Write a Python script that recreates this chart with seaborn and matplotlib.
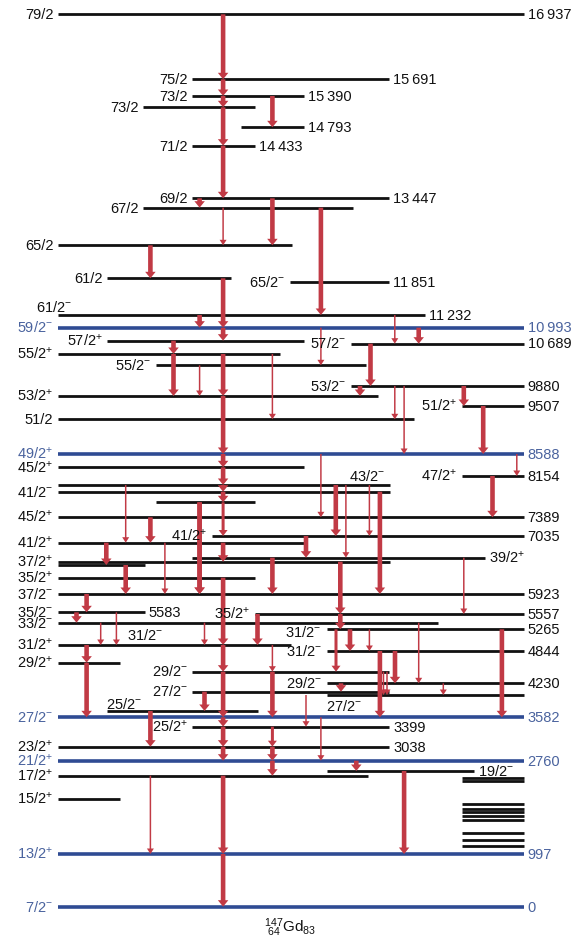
import matplotlib
matplotlib.use("Agg")
import matplotlib.pyplot as plt
import numpy as np
import pandas as pd
import seaborn as sns

# ------------------------------------------------------------------ data
# levels of 147Gd: key, drawing position (schematic, top = 0), left/right end,
# spin-parity label, energy label (keV), highlighted (blue) flag
level_key = ["16937", "15691", "15390", "73b", "14793", "14433", "13447", "67", "65", "61",
             "11851", "11232", "10993", "57p", "10689", "55p", "55m", "9880", "53p", "9507",
             "51", "8588", "45p", "8154", "43m", "41m", "u1", "7389", "7035", "41p",
             "39p", "37p", "37pb", "35p", "5923", "5583", "5557", "33m", "5265", "31p",
             "4844", "29p", "29m", "4230", "27m", "27mr", "25m", "3582", "3399", "3038",
             "2760", "19m", "17p", "15p", "997", "0"]
level_pos = [14.3, 79.3, 96.0, 107.3, 127.3, 145.7, 198.3, 207.7, 245.3, 278.3,
             282.3, 315.0, 327.7, 340.7, 343.7, 354.0, 365.3, 386.0, 396.0, 406.0,
             419.3, 454.0, 467.3, 476.0, 485.0, 491.7, 502.3, 517.3, 536.0, 542.7,
             557.7, 561.7, 565.0, 577.7, 594.0, 612.3, 614.0, 622.7, 629.3, 645.0,
             651.0, 662.7, 671.7, 683.3, 691.7, 695.0, 711.0, 717.3, 726.7, 746.7,
             760.7, 771.0, 775.7, 799.3, 854.0, 906.7]
level_x0 = [57.8, 192.2, 192.2, 142.9, 241.4, 192.2, 192.2, 142.9, 57.8, 107.1,
            289.9, 57.8, 57.8, 107.1, 350.7, 57.8, 155.6, 350.7, 57.8, 461.6,
            57.8, 57.8, 57.8, 461.6, 57.8, 57.8, 155.6, 57.8, 212.0, 57.8,
            192.2, 57.8, 57.8, 57.8, 57.8, 57.8, 254.9, 57.8, 326.5, 57.8,
            326.5, 57.8, 192.2, 326.5, 192.2, 326.5, 107.1, 57.8, 192.2, 57.8,
            57.8, 326.5, 57.8, 57.8, 57.8, 57.8]
level_x1 = [523.5, 389.2, 304.1, 254.9, 304.1, 254.9, 389.2, 352.6, 292.2, 230.6,
            389.2, 425.4, 523.5, 304.1, 523.5, 279.9, 365.7, 523.5, 378.0, 523.5,
            414.2, 523.5, 304.1, 523.5, 389.9, 389.9, 254.9, 523.5, 523.5, 304.1,
            485.1, 389.9, 144.8, 254.9, 523.5, 144.8, 523.5, 438.4, 523.5, 291.0,
            523.5, 120.1, 389.2, 523.5, 389.2, 523.5, 257.5, 523.5, 389.2, 389.2,
            523.5, 473.9, 367.5, 120.1, 523.5, 523.5]
level_spin = ["79/2", "75/2", "73/2", "73/2", "", "71/2", "69/2", "67/2", "65/2", "61/2",
              "65/2−", "", "59/2−", "57/2+", "57/2−", "55/2+", "55/2−", "53/2−", "53/2+", "51/2+",
              "51/2", "49/2+", "45/2+", "47/2+", "", "41/2−", "", "45/2+", "41/2+", "41/2+",
              "", "37/2+", "", "35/2+", "37/2−", "35/2−", "35/2+", "33/2−", "", "31/2+",
              "31/2−", "29/2+", "29/2−", "29/2−", "27/2−", "", "", "27/2−", "25/2+", "23/2+",
              "21/2+", "", "17/2+", "15/2+", "13/2+", "7/2−"]
level_energy = ["16\u2009937", "15\u2009691", "15\u2009390", "", "14\u2009793", "14\u2009433",
                "13\u2009447", "", "", "", "11\u2009851", "11\u2009232", "10\u2009993", "",
                "10\u2009689", "", "", "9880", "", "9507", "", "8588", "", "8154", "", "", "",
                "7389", "7035", "", "39/2+", "", "", "", "5923", "5583", "5557", "", "5265", "",
                "4844", "", "", "4230", "", "", "", "3582", "3399", "3038", "2760", "19/2−",
                "", "", "997", "0"]
level_blue = ["10993", "8588", "3582", "2760", "997", "0"]

# unresolved low-lying levels drawn as a short stack at the right
stack_pos = [777.5, 780.7, 804.0, 808.5, 812.0, 816.0, 820.0, 832.5, 839.5, 846.0]
stack_x0 = [461.6] * len(stack_pos)
stack_x1 = [523.5] * len(stack_pos)

# labels placed away from their level's left end
extra_text = ["61/2−", "43/2−", "31/2−", "31/2−", "27/2−", "25/2−"]
extra_x = [36.0, 349.0, 127.0, 285.4, 326.5, 106.0]
extra_y = [307.0, 476.0, 635.0, 632.5, 706.0, 704.0]

# gamma transitions: horizontal place, initial level, final level, intensity class
tr_x = [223.1, 223.1, 223.1, 223.1, 223.1, 223.1, 223.1, 223.1, 223.1, 223.1,
        223.1, 223.1, 223.1, 223.1, 223.1, 223.1, 223.1, 223.1, 223.1, 223.1,
        223.1, 223.1, 223.1, 223.1, 199.6,
        272.4, 199.6, 272.4, 320.9, 150.4, 199.6, 394.8, 418.7, 320.9, 173.5,
        173.5, 199.6, 272.4, 370.5, 360.0, 394.8, 404.1, 463.8, 483.2, 516.8,
        320.9, 125.7, 150.4, 106.3, 125.7, 164.9, 199.6, 272.4, 306.0, 335.8,
        345.9, 369.4, 379.9, 492.5, 340.3, 463.8, 86.6, 76.5, 116.4, 100.7,
        86.6, 86.6, 204.5, 257.5, 272.4, 272.4, 272.4, 272.4, 272.4, 204.5,
        150.4, 150.4, 306.0, 320.9, 340.3, 336.0, 341.0, 350.0, 369.4, 379.9,
        383.5, 387.0, 395.0, 418.7, 443.3, 501.9, 356.3, 404.1]
tr_from = ["16937", "15691", "15390", "73b", "14433", "67", "61", "10993", "55p", "53p",
           "8588", "45p", "43m", "41m", "u1", "41p", "35p", "31p", "29m", "3582",
           "3399", "3038", "17p", "997", "u1",
           "15390", "13447", "13447", "67", "65", "11232", "11232", "10993", "10993", "57p",
           "55p", "55m", "55p", "10689", "9880", "9880", "9880", "9880", "9507", "8588",
           "8588", "43m", "7389", "41p", "37pb", "41p", "u1", "39p", "7035", "43m",
           "43m", "43m", "41m", "8154", "37p", "39p", "5923", "5583", "5583", "33m",
           "31p", "29p", "33m", "5557", "31p", "29m", "3399", "3038", "2760", "27m",
           "25m", "17p", "27mr", "3582", "5557", "5265", "4230", "5265", "5265", "4844",
           "29m", "29m", "4844", "33m", "4230", "5265", "2760", "19m"]
tr_to = ["15691", "15390", "73b", "14433", "13447", "65", "10993", "57p", "53p", "8588",
         "45p", "43m", "41m", "u1", "7035", "37p", "31p", "29m", "3582", "3399",
         "3038", "2760", "997", "0", "5923",
         "14793", "67", "65", "11232", "61", "10993", "10689", "10689", "55m", "55p",
         "53p", "53p", "51", "9880", "53p", "51", "8588", "9507", "8588", "8154",
         "7389", "41p", "41p", "37pb", "5923", "5923", "5923", "5923", "39p", "7035",
         "39p", "7035", "5923", "7389", "5557", "5557", "5583", "33m", "31p", "31p",
         "29p", "3582", "31p", "31p", "29m", "3582", "3038", "2760", "17p", "25m",
         "3038", "997", "3399", "2760", "5265", "29m", "27m", "4844", "4844", "3582",
         "27mr", "27mr", "4230", "4230", "27mr", "3582", "19m", "997"]
tr_int = [3, 3, 3, 3, 3, 1, 3, 3, 3, 3,
          3, 3, 3, 3, 2, 3, 3, 3, 3, 3,
          3, 3, 3, 3, 3,
          3, 3, 3, 3, 3, 3, 1, 3, 1, 3,
          3, 1, 1, 3, 3, 1, 1, 3, 3, 1,
          1, 1, 3, 3, 3, 1, 3, 3, 3, 3,
          1, 1, 3, 3, 3, 1, 3, 3, 1, 1,
          3, 3, 1, 3, 1, 3, 2, 3, 3, 3,
          3, 1, 1, 1, 3, 2, 3, 3, 1, 3,
          1, 1, 3, 1, 1, 3, 3, 3]

# ------------------------------------------------------------------ style
sns.set_theme(style="white")
plt.rcParams["font.family"] = ["Liberation Sans", "DejaVu Sans"]
plt.rcParams["mathtext.fontset"] = "custom"
plt.rcParams["mathtext.rm"] = "Liberation Sans"
plt.rcParams["mathtext.it"] = "Liberation Sans:italic"
plt.rcParams["mathtext.bf"] = "Liberation Sans:bold"
plt.rcParams["mathtext.sf"] = "Liberation Sans"
plt.rcParams["mathtext.default"] = "regular"

BLACK = "#111111"
BLUE_LINE = "#2f4b93"
BLUE_TEXT = "#4a639e"
RED = "#c13a45"
FS = 10.5

W, H = 585, 941
fig = plt.figure(figsize=(W / 100, H / 100), dpi=100)
ax = fig.add_axes([0, 0, 1, 1])

pos_of = dict(zip(level_key, level_pos))


def fmt(s):
    if s.endswith("+"):
        return s[:-1] + r"$^{+}$"
    if s.endswith("−"):
        return s[:-1] + r"$^{-}$"
    return s


# ---- levels through seaborn
rows = []
for k, y, a, b in zip(level_key, level_pos, level_x0, level_x1):
    kind = "blue" if k in level_blue else "black"
    rows.append(dict(key=k, x=a, y=y, kind=kind))
    rows.append(dict(key=k, x=b, y=y, kind=kind))
for i, (y, a, b) in enumerate(zip(stack_pos, stack_x0, stack_x1)):
    rows.append(dict(key=f"s{i}", x=a, y=y, kind="black"))
    rows.append(dict(key=f"s{i}", x=b, y=y, kind="black"))
df = pd.DataFrame(rows)

sns.lineplot(data=df[df.kind == "black"], x="x", y="y", units="key", estimator=None,
             sort=False, color=BLACK, linewidth=2.0, solid_capstyle="butt",
             legend=False, ax=ax, zorder=2)
sns.lineplot(data=df[df.kind == "blue"], x="x", y="y", units="key", estimator=None,
             sort=False, color=BLUE_LINE, linewidth=2.6, solid_capstyle="butt",
             legend=False, ax=ax, zorder=2)

# ---- transitions
shape = {1: (1.5, 7.0, 5.5), 2: (3.0, 9.0, 6.0), 3: (4.6, 10.5, 6.5)}
for x, a, b, w in zip(tr_x, tr_from, tr_to, tr_int):
    y0, y1 = pos_of[a], pos_of[b]
    sw, hw, hl = shape[w]
    ax.arrow(x, y0, 0, y1 - y0, width=sw, head_width=hw, head_length=hl,
             length_includes_head=True, fc=RED, ec="none", lw=0, zorder=3)

# ---- labels
for k, y, a, b, sp, en in zip(level_key, level_pos, level_x0, level_x1,
                               level_spin, level_energy):
    col = BLUE_TEXT if k in level_blue else BLACK
    if sp:
        ax.text(a - 4.5, y + 4.8, fmt(sp), ha="right", va="baseline",
                fontsize=FS, color=col, zorder=4)
    if en:
        ax.text(b + 4.0, y + 4.8, fmt(en), ha="left", va="baseline",
                fontsize=FS, color=col, zorder=4)
for t, x, y in zip(extra_text, extra_x, extra_y):
    ax.text(x, y + 4.8, fmt(t), ha="left", va="baseline", fontsize=FS,
            color=BLACK, zorder=4)

ax.text(290, 932, r"${}^{147}_{\ 64}\mathrm{Gd}_{83}$", ha="center", va="baseline",
        fontsize=11, color=BLACK)

ax.set_xlim(0, W)
ax.set_ylim(H, 0)
ax.set_axis_off()
fig.savefig("out.png", dpi=100)
